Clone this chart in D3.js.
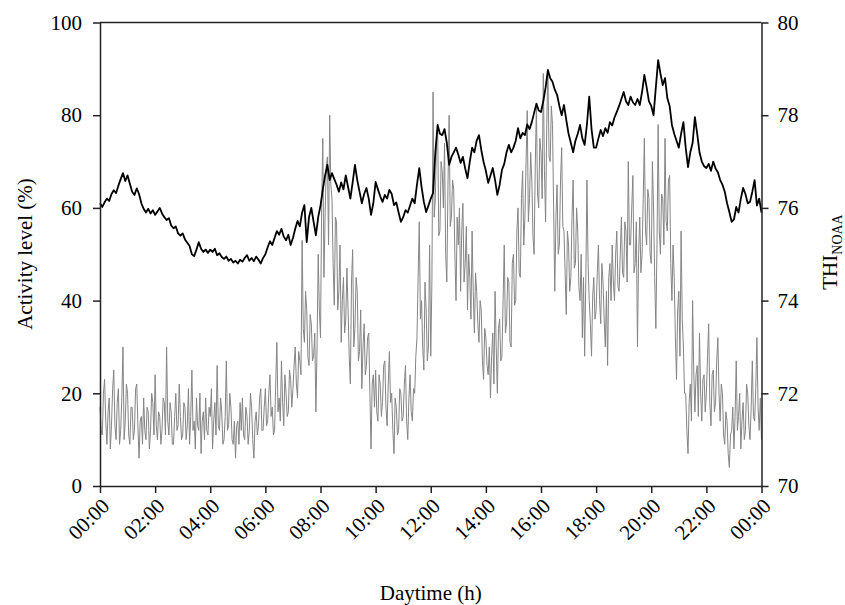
<!DOCTYPE html>
<html><head><meta charset="utf-8">
<script src="https://cdn.jsdelivr.net/npm/d3@7"></script>
<style>
body{margin:0;background:#fff;}
svg{display:block;font-family:"Liberation Serif","Times New Roman",serif;}
</style></head>
<body><svg id="c" width="845" height="605"></svg>
<script>
// activity: 2.5-minute steps, THI: 5-minute steps, 00:00 to 24:00
const activityStepMinutes = 2.5;
const thiStepMinutes = 5;
const activity = [
17,12,11,20,23,14,9,16,19,8,13,21,25,13,10,18,21,9,12,19,30,10,14,22,
20,11,9,17,17,10,12,21,22,13,6,14,15,9,19,12,10,17,16,8,12,20,18,11,
24,13,10,16,15,9,12,19,18,11,30,14,11,18,16,9,9,15,20,12,13,22,15,10,
11,18,17,10,13,21,9,15,25,12,14,8,19,13,12,20,7,14,16,10,19,12,11,17,
15,21,8,14,18,11,26,13,12,19,16,9,10,15,27,12,13,20,17,10,9,14,6,13,
14,9,18,12,19,11,10,17,15,9,12,20,17,10,6,14,16,11,13,19,21,12,12,17,
21,13,14,20,24,15,17,11,12,22,31,16,19,14,27,18,13,24,20,15,16,25,23,17,
21,26,30,22,19,29,27,24,53,34,31,42,38,28,26,37,35,27,28,33,16,30,50,38,
32,60,75,45,58,69,71,52,80,65,62,48,39,58,57,38,42,52,31,40,45,33,36,47,
38,28,22,44,51,30,34,45,42,27,29,38,21,30,35,24,26,32,33,20,8,22,24,17,
25,16,14,24,22,15,18,26,27,17,13,22,29,18,20,12,7,19,17,11,12,21,20,14,
15,22,26,14,10,19,24,16,14,21,20,28,32,45,57,36,40,30,25,44,38,27,30,52,
28,44,85,58,62,75,78,54,55,70,68,60,74,50,44,65,80,56,58,66,64,50,40,58,
52,60,42,55,61,44,48,56,38,50,45,36,55,42,33,46,42,35,31,40,38,27,23,34,
32,26,24,30,19,28,33,22,42,30,20,34,36,27,28,40,52,33,35,45,44,31,30,48,
50,39,40,55,60,46,45,62,68,52,58,70,81,57,62,72,66,54,50,69,82,63,60,75,
72,62,89,68,57,78,90,71,70,82,78,60,42,58,65,50,52,66,73,56,55,46,37,55,
52,42,45,58,66,47,48,60,55,43,40,50,32,45,28,44,66,48,40,35,28,41,45,36,
38,46,52,40,35,48,44,36,30,42,26,45,48,40,52,44,40,50,55,43,42,50,58,46,
45,57,55,44,70,52,52,60,67,46,48,57,30,50,58,46,50,62,75,55,52,64,62,50,
48,70,60,45,34,52,78,55,50,63,62,52,75,57,55,66,67,48,40,52,45,32,23,38,
42,28,55,36,30,20,20,12,7,18,22,14,40,25,16,24,26,15,33,20,14,23,24,16,
20,28,35,18,13,24,25,16,18,27,32,20,14,22,20,11,9,16,14,7,4,11,12,17,
8,15,27,12,15,20,8,14,18,10,12,22,20,13,10,17,27,15,14,21,32,17,12,19,
10];
const thi = [
76.10,76.02,76.12,76.20,76.15,76.30,76.38,76.32,76.48,76.62,76.75,76.58,
76.70,76.52,76.35,76.28,76.42,76.30,76.10,75.98,75.90,75.98,75.88,75.95,
75.85,75.92,76.00,75.88,75.80,75.74,75.78,75.62,75.56,75.60,75.45,75.40,
75.45,75.32,75.25,75.18,75.00,74.96,75.10,75.26,75.12,75.05,75.10,75.03,
75.10,75.05,75.12,74.98,75.02,74.94,74.90,74.95,74.86,74.90,74.82,74.86,
74.80,74.88,74.84,74.92,74.98,74.86,74.92,74.85,74.95,74.88,74.80,74.92,
75.00,75.15,75.28,75.20,75.35,75.50,75.42,75.55,75.38,75.30,75.42,75.20,
75.35,75.55,75.72,75.60,75.90,76.06,75.26,75.80,76.00,75.70,75.41,75.80,
76.05,76.40,76.70,76.93,76.60,76.75,76.62,76.50,76.35,76.55,76.40,76.70,
76.45,76.20,76.55,76.93,76.60,76.35,76.10,76.30,76.43,76.20,75.85,76.10,
76.56,76.40,76.25,76.13,76.28,76.20,76.39,76.30,76.06,76.12,75.90,75.70,
75.80,75.95,75.90,76.05,76.20,76.10,76.50,76.86,76.45,76.13,75.91,76.05,
76.20,76.32,77.20,77.79,77.60,77.57,77.70,77.40,76.93,77.10,77.20,77.30,
77.15,76.97,77.10,76.85,76.64,77.00,77.30,77.20,77.45,77.57,77.25,76.99,
76.80,76.54,76.70,76.86,76.60,76.28,76.50,76.82,76.95,77.20,77.36,77.20,
77.30,77.45,77.72,77.50,77.62,77.57,77.80,77.70,77.85,78.05,78.25,78.10,
78.07,78.30,78.60,78.97,78.80,78.72,78.55,78.44,78.20,78.00,78.22,77.90,
77.60,77.40,77.20,77.45,77.60,77.79,77.50,77.36,77.80,78.40,77.70,77.30,
77.30,77.50,77.68,77.55,77.72,77.62,77.85,77.78,77.95,78.07,78.20,78.35,
78.50,78.30,78.22,78.40,78.28,78.22,78.35,78.22,78.50,78.87,78.60,78.30,
78.20,78.00,78.60,79.19,78.90,78.65,78.80,78.37,78.20,77.79,77.60,77.45,
77.30,77.60,77.85,77.30,76.88,77.20,77.40,77.96,77.60,77.20,77.00,76.90,
76.86,76.95,76.80,77.00,76.85,76.77,76.60,76.50,76.35,76.10,75.91,75.70,
75.75,76.02,75.90,76.20,76.43,76.30,76.10,76.13,76.35,76.60,76.05,76.20,
75.90];
const xTickHours = [0,2,4,6,8,10,12,14,16,18,20,22,24];
const xTickLabels = ["00:00","02:00","04:00","06:00","08:00","10:00","12:00","14:00","16:00","18:00","20:00","22:00","00:00"];
const leftTicks = [0,20,40,60,80,100];
const rightTicks = [70,72,74,76,78,80];

const svg = d3.select("#c");
const L = 100, R = 761.5, T = 22.5, B = 486;
const x = d3.scaleLinear().domain([0,24]).range([L,R]);
const yL = d3.scaleLinear().domain([0,100]).range([B,T]);
const yR = d3.scaleLinear().domain([70,80]).range([B,T]);
const axisColor = "#222";
const fs = 21;

svg.append("path").datum(activity)
  .attr("fill","none").attr("stroke","#858585").attr("stroke-width",1)
  .attr("d", d3.line().x((d,i)=>x(i*activityStepMinutes/60)).y(d=>yL(d)));
svg.append("path").datum(thi)
  .attr("fill","none").attr("stroke","#000").attr("stroke-width",1.8)
  .attr("stroke-linejoin","round")
  .attr("d", d3.line().x((d,i)=>x(i*thiStepMinutes/60)).y(d=>yR(d)));

svg.append("line").attr("x1",L).attr("x2",R).attr("y1",T).attr("y2",T)
  .attr("stroke",axisColor).attr("stroke-width",1.5);

function styleAxis(g){
  g.selectAll(".domain").attr("stroke",axisColor).attr("stroke-width",1.5);
  g.selectAll(".tick line").attr("stroke",axisColor).attr("stroke-width",1.5);
  g.selectAll(".tick text").attr("fill","#000").style("font-size",fs+"px")
    .style("font-family",'"Liberation Serif","Times New Roman",serif');
}

const gL = svg.append("g").attr("transform",`translate(${L},0)`)
  .call(d3.axisLeft(yL).tickValues(leftTicks).tickSize(7).tickSizeOuter(0).tickPadding(11));
styleAxis(gL);
const gR = svg.append("g").attr("transform",`translate(${R},0)`)
  .call(d3.axisRight(yR).tickValues(rightTicks).tickSize(7).tickSizeOuter(0).tickPadding(9));
styleAxis(gR);
const gB = svg.append("g").attr("transform",`translate(0,${B})`)
  .call(d3.axisBottom(x).tickValues(xTickHours).tickSize(7).tickSizeOuter(0)
    .tickFormat((d,i)=>xTickLabels[i]));
styleAxis(gB);
gB.selectAll(".tick text")
  .attr("text-anchor","end").attr("x",0).attr("y",0).attr("dy","0.35em")
  .attr("transform","translate(5,16) rotate(-45)");

svg.append("text").attr("x",430.75).attr("y",600).attr("text-anchor","middle")
  .style("font-size",fs+"px").text("Daytime (h)");
svg.append("text").attr("transform","translate(32,254) rotate(-90)")
  .attr("text-anchor","middle").style("font-size",fs+"px").text("Activity level (%)");
const t2 = svg.append("text").attr("transform","translate(837,252) rotate(-90)")
  .attr("text-anchor","middle").style("font-size",fs+"px");
t2.append("tspan").text("THI");
t2.append("tspan").attr("dy","0.35em").style("font-size","14px").text("NOAA");
</script></body></html>
